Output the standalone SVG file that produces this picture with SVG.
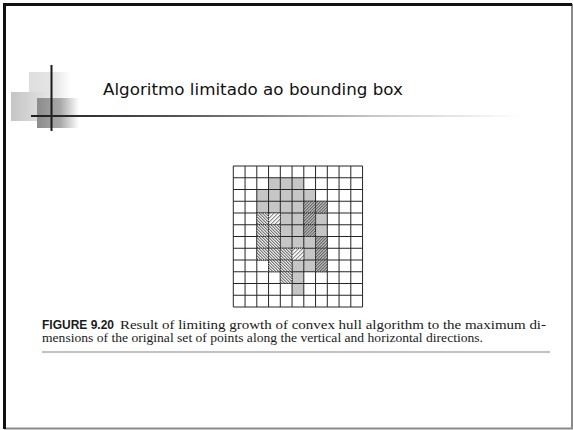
<svg xmlns="http://www.w3.org/2000/svg" width="573" height="430" viewBox="0 0 573 430">
<style>
.grid line{stroke:#262626;stroke-width:1}
.g{fill:#c6c6c6}
.ha{fill:url(#hatchA);stroke:#222;stroke-width:1;stroke-dasharray:1,1}
.hb{fill:url(#hatchB);stroke:#222;stroke-width:1;stroke-dasharray:1,1}
.hc{fill:url(#hatchC);stroke:#222;stroke-width:1;stroke-dasharray:1,1}
.cap{font-family:"Liberation Serif","Times New Roman",serif;font-size:13.5px;fill:#1a1a1a}
</style>
<defs>
<pattern id="hatchA" patternUnits="userSpaceOnUse" width="3" height="3">
<rect width="3" height="3" fill="#e8e8e8"/>
<path d="M0,0 L3,3 M-1,2 L1,4 M2,-1 L4,1" stroke="#3a3a3a" stroke-width="0.9"/>
</pattern>
<pattern id="hatchB" patternUnits="userSpaceOnUse" width="3" height="3">
<rect width="3" height="3" fill="#b8b8b8"/>
<path d="M0,3 L3,0 M-1,1 L1,-1 M2,4 L4,2" stroke="#3a3a3a" stroke-width="0.9"/>
</pattern>
<pattern id="hatchC" patternUnits="userSpaceOnUse" width="4" height="4">
<rect width="4" height="4" fill="#f4f4f4"/>
<path d="M0,4 L4,0 M-1,1 L1,-1 M3,5 L5,3" stroke="#555" stroke-width="0.9"/>
</pattern>
<linearGradient id="gSq1" x1="0" y1="0" x2="1" y2="0">
<stop offset="0" stop-color="#dedede"/>
<stop offset="0.6" stop-color="#e6e6e6"/>
<stop offset="1" stop-color="#ffffff"/>
</linearGradient>
<linearGradient id="gSq2" x1="0" y1="0" x2="1" y2="0">
<stop offset="0" stop-color="#c4c4c4"/>
<stop offset="1" stop-color="#e2e2e2"/>
</linearGradient>
<linearGradient id="gSq3" x1="0" y1="0" x2="1" y2="0">
<stop offset="0" stop-color="#8c8c8c"/>
<stop offset="0.55" stop-color="#a8a8a8"/>
<stop offset="1" stop-color="#ffffff"/>
</linearGradient>
<linearGradient id="gLine" x1="31" y1="0" x2="522" y2="0" gradientUnits="userSpaceOnUse">
<stop offset="0" stop-color="#1e1e1e"/>
<stop offset="0.3" stop-color="#555"/>
<stop offset="0.7" stop-color="#c8c8c8"/>
<stop offset="1" stop-color="#ffffff"/>
</linearGradient>
</defs>
<rect width="573" height="430" fill="#ffffff"/>
<g id="frame" fill="none">
<path d="M572,4 V428.5 H4" stroke="#8a8a8a" stroke-width="2"/>
<path d="M4.5,429 V4.5 H572" stroke="#111" stroke-width="3"/>
</g>
<g id="title-decor">
<rect x="29" y="72" width="42" height="30" fill="url(#gSq1)"/>
<rect x="11" y="92" width="35" height="29" fill="url(#gSq2)"/>
<rect x="37" y="98" width="42" height="30" fill="url(#gSq3)"/>
<line x1="51.5" y1="65" x2="51.5" y2="131" stroke="#1a1a1a" stroke-width="2"/>
<line x1="31" y1="116" x2="522" y2="116" stroke="url(#gLine)" stroke-width="2"/>
</g>
<g id="title">
<text x="103" y="95" font-family="'DejaVu Sans',Verdana,sans-serif" font-size="16.7" fill="#111" textLength="300" lengthAdjust="spacingAndGlyphs">Algoritmo limitado ao bounding box</text>
</g>
<g id="figure" transform="translate(233.3,166)">
<g id="gray-cells">
<rect class="g" x="35.25" y="11.75" width="35.25" height="11.75"/>
<rect class="g" x="23.5" y="23.5" width="58.75" height="11.75"/>
<rect class="g" x="23.5" y="35.25" width="47" height="11.75"/>
<rect class="g" x="47" y="47" width="23.5" height="11.75"/>
<rect class="g" x="82.25" y="47" width="11.75" height="11.75"/>
<rect class="g" x="47" y="58.75" width="23.5" height="11.75"/>
<rect class="g" x="82.25" y="58.75" width="11.75" height="11.75"/>
<rect class="g" x="47" y="70.5" width="35.25" height="11.75"/>
<rect class="g" x="70.5" y="82.25" width="11.75" height="11.75"/>
<rect class="g" x="58.75" y="94" width="23.5" height="11.75"/>
<rect class="g" x="58.75" y="105.75" width="11.75" height="11.75"/>
<rect class="g" x="58.75" y="117.5" width="11.75" height="11.75"/>
</g>
<g class="grid" id="grid-lines">
<line x1="0" y1="0" x2="129.25" y2="0"/>
<line x1="0" y1="11.75" x2="129.25" y2="11.75"/>
<line x1="0" y1="23.5" x2="129.25" y2="23.5"/>
<line x1="0" y1="35.25" x2="129.25" y2="35.25"/>
<line x1="0" y1="47" x2="129.25" y2="47"/>
<line x1="0" y1="58.75" x2="129.25" y2="58.75"/>
<line x1="0" y1="70.5" x2="129.25" y2="70.5"/>
<line x1="0" y1="82.25" x2="129.25" y2="82.25"/>
<line x1="0" y1="94" x2="129.25" y2="94"/>
<line x1="0" y1="105.75" x2="129.25" y2="105.75"/>
<line x1="0" y1="117.5" x2="129.25" y2="117.5"/>
<line x1="0" y1="129.25" x2="129.25" y2="129.25"/>
<line x1="0" y1="141" x2="129.25" y2="141"/>
<line x1="0" y1="0" x2="0" y2="141"/>
<line x1="11.75" y1="0" x2="11.75" y2="141"/>
<line x1="23.5" y1="0" x2="23.5" y2="141"/>
<line x1="35.25" y1="0" x2="35.25" y2="141"/>
<line x1="47" y1="0" x2="47" y2="141"/>
<line x1="58.75" y1="0" x2="58.75" y2="141"/>
<line x1="70.5" y1="0" x2="70.5" y2="141"/>
<line x1="82.25" y1="0" x2="82.25" y2="141"/>
<line x1="94" y1="0" x2="94" y2="141"/>
<line x1="105.75" y1="0" x2="105.75" y2="141"/>
<line x1="117.5" y1="0" x2="117.5" y2="141"/>
<line x1="129.25" y1="0" x2="129.25" y2="141"/>
</g>
<g id="hatched-cells">
<rect class="hb" x="70.5" y="35.25" width="11.75" height="11.75"/>
<rect class="hb" x="82.25" y="35.25" width="11.75" height="11.75"/>
<rect class="ha" x="23.5" y="47" width="11.75" height="11.75"/>
<rect class="hc" x="35.25" y="47" width="11.75" height="11.75"/>
<rect class="hb" x="70.5" y="47" width="11.75" height="11.75"/>
<rect class="ha" x="23.5" y="58.75" width="11.75" height="11.75"/>
<rect class="ha" x="35.25" y="58.75" width="11.75" height="11.75"/>
<rect class="hb" x="70.5" y="58.75" width="11.75" height="11.75"/>
<rect class="ha" x="23.5" y="70.5" width="11.75" height="11.75"/>
<rect class="ha" x="35.25" y="70.5" width="11.75" height="11.75"/>
<rect class="hb" x="82.25" y="70.5" width="11.75" height="11.75"/>
<rect class="ha" x="23.5" y="82.25" width="11.75" height="11.75"/>
<rect class="ha" x="35.25" y="82.25" width="11.75" height="11.75"/>
<rect class="ha" x="47" y="82.25" width="11.75" height="11.75"/>
<rect class="hc" x="58.75" y="82.25" width="11.75" height="11.75"/>
<rect class="hb" x="82.25" y="82.25" width="11.75" height="11.75"/>
<rect class="ha" x="35.25" y="94" width="11.75" height="11.75"/>
<rect class="ha" x="47" y="94" width="11.75" height="11.75"/>
<rect class="hb" x="82.25" y="94" width="11.75" height="11.75"/>
<rect class="ha" x="47" y="105.75" width="11.75" height="11.75"/>
</g>
</g>
<g id="caption">
<text x="42" y="328.5" font-family="'Liberation Sans',Arial,sans-serif" font-weight="bold" font-size="13" fill="#1a1a1a" textLength="72" lengthAdjust="spacingAndGlyphs">FIGURE 9.20</text>
<text class="cap" x="120" y="328.5" textLength="426" lengthAdjust="spacingAndGlyphs">Result of limiting growth of convex hull algorithm to the maximum di-</text>
<text class="cap" x="42" y="342" textLength="441" lengthAdjust="spacingAndGlyphs">mensions of the original set of points along the vertical and horizontal directions.</text>
<line x1="42" y1="352" x2="550" y2="352" stroke="#c2c2c2" stroke-width="2"/>
</g>
</svg>
